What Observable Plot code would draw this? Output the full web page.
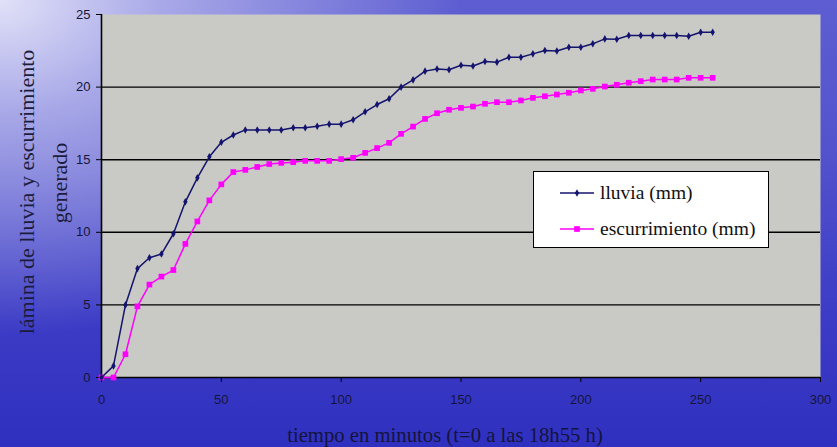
<!DOCTYPE html>
<html>
<head>
<meta charset="utf-8">
<script src="https://cdn.jsdelivr.net/npm/d3@7"></script>
<script src="https://cdn.jsdelivr.net/npm/@observablehq/plot@0.6"></script>
<style>
  html, body { margin: 0; padding: 0; }
  #wrap {
    position: relative; width: 837px; height: 447px; overflow: hidden;
    background:
      radial-gradient(ellipse 55% 75% at 0% 0%, rgba(232,232,250,0.95) 0%, rgba(200,200,242,0.7) 35%, rgba(150,150,228,0) 100%),
      linear-gradient(to bottom, #5e5ed2 0%, #5252cc 35%, #3c3cc6 70%, #3030c0 100%);
    font-family: "Liberation Serif", serif;
  }
  #chart { position: absolute; left: 0; top: 0; }
  .ytitle {
    position: absolute; color: #1c1c3c; font-size: 22px; white-space: nowrap;
    transform: translate(-50%, -50%) rotate(-90deg); line-height: 1;
  }
  #xtitle {
    position: absolute; left: 445px; top: 435px; transform: translate(-50%, -50%);
    color: #14143a; font-size: 20.7px; white-space: nowrap; line-height: 1;
  }
  #legend {
    position: absolute; left: 533px; top: 171px; width: 236px; height: 77px;
    background: #fff; border: 1.5px solid #000; box-sizing: border-box;
  }
  .lrow { position: absolute; left: 0; height: 20px; display: flex; align-items: center; }
  .lrow span { font-size: 19.5px; color: #111; margin-left: 2px; line-height: 1; }
</style>
</head>
<body>
<div id="wrap">
  <div id="chart"></div>
  <div class="ytitle" style="left:27px; top:192px;">lámina de lluvia y escurrimiento</div>
  <div class="ytitle" style="left:60px; top:183px;">generado</div>
  <div id="xtitle">tiempo en minutos (t=0 a las 18h55 h)</div>
  <div id="legend"></div>
</div>
<script>
const tiempo = [0,5,10,15,20,25,30,35,40,45,50,55,60,65,70,75,80,85,90,95,100,105,110,115,120,125,130,135,140,145,150,155,160,165,170,175,180,185,190,195,200,205,210,215,220,225,230,235,240,245,250,255];
const lluvia = [0,0.8,5.0,7.5,8.25,8.5,9.9,12.1,13.75,15.2,16.2,16.7,17.05,17.05,17.05,17.05,17.2,17.2,17.3,17.45,17.45,17.75,18.3,18.8,19.2,20.0,20.5,21.1,21.25,21.2,21.5,21.45,21.76,21.72,22.06,22.06,22.29,22.52,22.49,22.75,22.75,22.98,23.32,23.3,23.55,23.55,23.55,23.55,23.55,23.5,23.78,23.78];
const escurrimiento = [0,0,1.6,4.9,6.4,6.95,7.4,9.2,10.75,12.2,13.3,14.15,14.3,14.5,14.7,14.78,14.83,14.92,14.92,14.92,15.04,15.13,15.47,15.8,16.16,16.78,17.28,17.81,18.2,18.44,18.57,18.66,18.85,18.96,18.96,19.08,19.26,19.37,19.49,19.61,19.77,19.88,20.04,20.16,20.3,20.41,20.52,20.52,20.52,20.64,20.64,20.64];
const series = ["lluvia (mm)", "escurrimiento (mm)"];
const colors = ["#14146e", "#ff00ff"];
const symbols = ["diamond", "square"];
const xTicks = [0,50,100,150,200,250,300];
const yTicks = [0,5,10,15,20,25];
const gridY = [5,10,15,20];

const rowsL = tiempo.map((t, i) => ({t, v: lluvia[i]}));
const rowsE = tiempo.map((t, i) => ({t, v: escurrimiento[i]}));

const tickFont = "'Liberation Sans Narrow', 'Liberation Sans', Arial, sans-serif";

const plot = Plot.plot({
  width: 837, height: 447,
  marginLeft: 101, marginRight: 17, marginTop: 14, marginBottom: 70,
  style: {background: "transparent", overflow: "visible"},
  x: {domain: [0, 300]},
  y: {domain: [0, 25]},
  marks: [
    Plot.frame({fill: "#c9c9c5", stroke: null}),
    Plot.ruleY(gridY, {stroke: "#000", strokeWidth: 1.4}),
    Plot.ruleY([0], {stroke: "#000", strokeWidth: 1.6}),
    Plot.ruleX([0], {stroke: "#000", strokeWidth: 1.6}),
    Plot.axisX({ticks: xTicks, tickSize: 5, tickPadding: 12, label: null, fontSize: 13, fontFamily: tickFont, fill: "#15153a", stroke: "#000", tickFormat: d => String(d)}),
    Plot.axisY({ticks: yTicks, tickSize: 5, tickPadding: 6, label: null, fontSize: 13, fontFamily: tickFont, fill: "#15153a", stroke: "#000", tickFormat: d => String(d)}),
    Plot.line(rowsE, {x: "t", y: "v", stroke: colors[1], strokeWidth: 1.5}),
    Plot.dot(rowsE, {x: "t", y: "v", symbol: symbols[1], fill: colors[1], r: 3.2}),
    Plot.line(rowsL, {x: "t", y: "v", stroke: colors[0], strokeWidth: 1.5}),
    Plot.dot(rowsL, {x: "t", y: "v", symbol: symbols[0], fill: colors[0], r: 2.3})
  ]
});
document.getElementById("chart").appendChild(plot);

// legend
const legend = document.getElementById("legend");
const tops = [11, 47];
series.forEach((name, i) => {
  const row = document.createElement("div");
  row.className = "lrow";
  row.style.top = tops[i] + "px";
  const ns = "http://www.w3.org/2000/svg";
  const svg = document.createElementNS(ns, "svg");
  svg.setAttribute("width", 64); svg.setAttribute("height", 20);
  const ln = document.createElementNS(ns, "line");
  ln.setAttribute("x1", 26); ln.setAttribute("x2", 60); ln.setAttribute("y1", 10); ln.setAttribute("y2", 10);
  ln.setAttribute("stroke", colors[i]); ln.setAttribute("stroke-width", 1.5);
  svg.appendChild(ln);
  const p = document.createElementNS(ns, "path");
  const sym = i === 0 ? d3.symbol(d3.symbolDiamond, Math.PI * 2.3 * 2.3) : d3.symbol(d3.symbolSquare, Math.PI * 3.2 * 3.2);
  p.setAttribute("d", sym());
  p.setAttribute("transform", "translate(43,10)");
  p.setAttribute("fill", colors[i]);
  svg.appendChild(p);
  row.appendChild(svg);
  const s = document.createElement("span");
  s.textContent = name;
  row.appendChild(s);
  legend.appendChild(row);
});
</script>
</body>
</html>
